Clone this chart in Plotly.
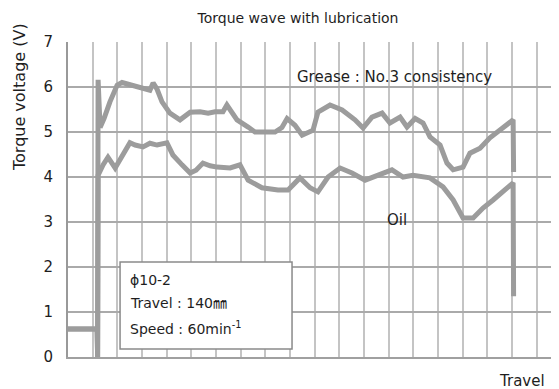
import plotly.graph_objects as go

# Travel in grid divisions, torque voltage in V
grease_x = [0, 1.18, 1.20, 1.22, 1.30, 1.46, 1.70, 1.99, 2.19, 2.51, 2.84, 3.12, 3.32, 3.45, 3.61, 3.81,
            4.13, 4.54, 4.95, 5.35, 5.68, 5.96, 6.28, 6.44, 6.65, 6.85, 7.30, 7.58, 7.99, 8.39, 8.67,
            8.88, 9.20, 9.49, 9.93, 10.13, 10.62, 11.11, 11.63, 11.96, 12.32, 12.73, 13.05, 13.46,
            13.74, 14.07, 14.39, 14.67, 15.08, 15.36, 15.61, 16.01, 16.29, 16.70, 17.10, 17.51,
            17.92, 18.04, 18.06]
grease_v = [0.62, 0.62, 0.0, 6.16, 5.10, 5.30, 5.67, 6.04, 6.10, 6.05, 6.02, 5.95, 5.93, 6.09, 5.95, 5.67,
            5.42, 5.27, 5.44, 5.45, 5.42, 5.45, 5.45, 5.60, 5.45, 5.27, 5.11, 5.00, 5.00, 5.00, 5.10,
            5.30, 5.15, 4.93, 5.04, 5.44, 5.60, 5.49, 5.27, 5.09, 5.33, 5.42, 5.20, 5.33,
            5.11, 5.30, 5.20, 4.89, 4.71, 4.31, 4.16, 4.22, 4.53, 4.64, 4.87, 5.04,
            5.22, 5.27, 4.11]

oil_x = [0, 1.18, 1.20, 1.22, 1.42, 1.62, 1.91, 2.23, 2.51, 2.72, 3.04, 3.32, 3.61, 4.01, 4.25, 4.62,
         4.95, 5.19, 5.47, 5.76, 6.04, 6.57, 6.97, 7.30, 7.86, 8.51, 8.92, 9.40, 9.81, 10.13, 10.54,
         11.03, 11.51, 12.04, 12.57, 13.13, 13.58, 13.98, 14.67, 15.20, 15.61, 16.01, 16.42, 16.82,
         17.23, 17.63, 18.04, 18.06]
oil_v = [0.62, 0.62, 0.0, 4.04, 4.27, 4.44, 4.20, 4.49, 4.76, 4.71, 4.67, 4.75, 4.71, 4.76, 4.49, 4.27,
         4.09, 4.15, 4.31, 4.25, 4.22, 4.20, 4.27, 3.93, 3.76, 3.71, 3.71, 3.98, 3.76, 3.67, 4.00,
         4.20, 4.09, 3.93, 4.04, 4.16, 4.00, 4.04, 3.98, 3.78, 3.49, 3.09, 3.09, 3.31,
         3.49, 3.67, 3.87, 1.35]

y_ticks = [0, 1, 2, 3, 4, 5, 6, 7]

LINE = "#9c9c9c"
FONT = "DejaVu Sans, Noto Sans CJK JP, sans-serif"
TXT = "#1e1e1e"

# the page body adds an 8px offset; the plot area sits at x 68..559, y 42..357 in the window
W, H = 551, 381
L, T, B = 60, 34, 32
pw, ph = 559 - 68, 357 - 42


def px_to_paper(xp, yp):
    return (xp - 68) / pw, (357 - yp) / ph


fig = go.Figure()
fig.add_trace(go.Scatter(x=grease_x, y=grease_v, mode="lines", name="Grease",
                         line=dict(color=LINE, width=5), showlegend=False))
fig.add_trace(go.Scatter(x=oil_x, y=oil_v, mode="lines", name="Oil",
                         line=dict(color=LINE, width=5), showlegend=False))

# info box
fig.add_shape(type="rect", xref="x", yref="y", x0=2.11, x1=9.08, y0=0.18, y1=2.11,
              line=dict(color="#8a8a8a", width=1.5), fillcolor="white", layer="above")

ann = []
box_lines = [("ϕ10-2", 1.71), ("Travel : 140㎜", 1.20), ("Speed : 60min<sup>-1</sup>", 0.64)]
for txt, yy in box_lines:
    ann.append(dict(x=2.45, y=yy, xref="x", yref="y", text=txt, showarrow=False,
                    xanchor="left", yanchor="middle", font=dict(size=14, color=TXT, family=FONT)))
ann.append(dict(x=13.25, y=6.22, xref="x", yref="y", text="Grease : No.3 consistency", showarrow=False,
                xanchor="center", yanchor="middle", font=dict(size=15, color=TXT, family=FONT)))
ann.append(dict(x=13.34, y=3.04, xref="x", yref="y", text="Oil", showarrow=False,
                xanchor="center", yanchor="middle", font=dict(size=15, color=TXT, family=FONT)))
tx, ty = px_to_paper(522, 381)
ann.append(dict(x=tx, y=ty, xref="paper", yref="paper", text="Travel", showarrow=False,
                xanchor="center", yanchor="middle", font=dict(size=15, color=TXT, family=FONT)))
ax_, ay_ = px_to_paper(19, 97)
ann.append(dict(x=ax_, y=ay_, xref="paper", yref="paper",
                text="Torque voltage (V)", textangle=-90, showarrow=False,
                xanchor="center", yanchor="middle",
                font=dict(size=16, color=TXT, family=FONT)))

fig.update_layout(
    width=W, height=H,
    margin=dict(l=L, r=0, t=T, b=B),
    paper_bgcolor="white", plot_bgcolor="white",
    title=dict(text="Torque wave with lubrication", x=(298 - 8) / W, y=1 - (18 - 8) / H,
               xanchor="center", yanchor="middle",
               font=dict(size=14, color=TXT, family=FONT)),
    annotations=ann,
    xaxis=dict(range=[0, 19.9], dtick=1, tick0=0, showticklabels=False, ticks="",
               showgrid=True, gridcolor="#c4c4c4", gridwidth=1.5, zeroline=False,
               showline=True, linecolor="#a0a0a0", linewidth=1.5, mirror=False, fixedrange=True),
    yaxis=dict(range=[0, 7], tickvals=y_ticks, ticktext=[str(v) for v in y_ticks], ticks="",
               ticklabelstandoff=10, showgrid=True, gridcolor="#aaaaaa", gridwidth=1.5,
               zeroline=False, showline=True, linecolor="#999999", linewidth=2,
               tickfont=dict(size=15, color=TXT, family=FONT)),
    showlegend=False,
)

fig.write_html("out.html")
